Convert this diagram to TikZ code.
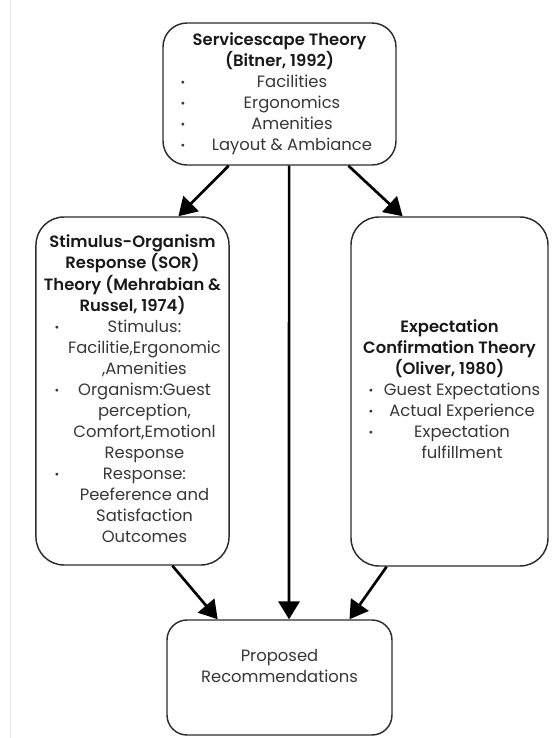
\documentclass[tikz,border=0pt]{standalone}
\usepackage{fontspec}
\setmainfont{Poppins}[BoldFont={Poppins SemiBold}]
\usepackage{array}
\usetikzlibrary{arrows.meta}
\usetikzlibrary{calc}
\definecolor{boxline}{RGB}{45,45,45}
\definecolor{itemtext}{RGB}{55,55,55}
\definecolor{pageedge}{RGB}{232,232,232}
\newcolumntype{C}[1]{>{\centering\arraybackslash}p{#1}}
\newcommand{\widthbullet}{7.5pt}
\newcommand{\hd}[1]{\multicolumn{2}{c}{\textbf{\color{black!90}#1}}}
\newcommand{\itm}[1]{\raisebox{0.1em}{\scalebox{0.7}{\textbullet}} & #1}
\tikzset{
    theory/.style={draw=boxline, line width=1.1pt, rounded corners=18pt, inner sep=0pt,
        font=\fontsize{12.3}{15.75}\selectfont, text=itemtext},
    link/.style={-{Triangle[length=13.5pt, width=16pt]}, line width=2pt},
}

\begin{document}
\begin{tikzpicture}[x=0.75pt, y=-0.75pt]
                \useasboundingbox (0,0) rectangle (556,738);
                \draw[pageedge, line width=0.75pt] (10,0) -- (10,738);

                \node[theory, minimum width=174.75pt, minimum height=106.5pt] (ServTh) at (279.5,94)
                    {\begin{tabular}{@{\hspace{11.25pt}}C{\widthbullet}@{}C{156pt}@{}}
                        \hd{Servicescape Theory}\\
                        \hd{(Bitner, 1992)}\\
                        \itm{Facilities}\\
                        \itm{Ergonomics}\\
                        \itm{Amenities}\\
                        \itm{Layout \& Ambiance}
                    \end{tabular}};

                \node[theory, rounded corners=21pt, minimum width=144.75pt, minimum height=261pt] (SORTh) at (132.5,391)
                    {\begin{tabular}{@{\hspace{12pt}}C{\widthbullet}@{}C{123.75pt}@{}}
                        \hd{Stimulus-Organism}\\
                        \hd{Response (SOR)}\\
                        \hd{Theory (Mehrabian \&}\\
                        \hd{Russel, 1974)}\\
                        \itm{Stimulus:\par Facilitie,Ergonomic\par ,Amenities}\\
                        \itm{Organism:Guest\par perception,\par Comfort,Emotionl\par Response}\\
                        \itm{Response:\par Peeference and\par Satisfaction\par Outcomes}
                    \end{tabular}};

                \node[theory, rounded corners=21pt, minimum width=147.75pt, minimum height=261.75pt] (ExpTh) at (449.5,391.5)
                    {\begin{tabular}{@{\hspace{11.25pt}}C{\widthbullet}@{}C{129pt}@{}}
                        \hd{Expectation}\\
                        \hd{Confirmation Theory}\\
                        \hd{(Oliver, 1980)}\\
                        \itm{Guest Expectations}\\
                        \itm{Actual Experience}\\
                        \itm{Expectation\par fulfillment}
                    \end{tabular}};

                \node[theory, rounded corners=15pt, minimum width=168.75pt, minimum height=86.25pt] (PropRec) at (279.5,677.5)
                    {\begin{tabular}{c}
                        Proposed\\
                        Recommendations\\[15pt]
                    \end{tabular}};

                % from the servicescape theory down
                \draw[link] ($(ServTh.south west)!0.283!(ServTh.south east)$) -- ($(SORTh.north west)!0.736!(SORTh.north east)$);
                \draw[link] ($(ServTh.south west)!0.541!(ServTh.south east)$) -- ($(PropRec.north west)!0.542!(PropRec.north east)$);
                \draw[link] ($(ServTh.south west)!0.794!(ServTh.south east)$) -- ($(ExpTh.north west)!0.264!(ExpTh.north east)$);

                % into the recommendations
                \draw[link] ($(SORTh.south west)!0.705!(SORTh.south east)$) -- ($(PropRec.north west)!0.227!(PropRec.north east)$);
                \draw[link] ($(ExpTh.south west)!0.183!(ExpTh.south east)$) -- ($(PropRec.north west)!0.809!(PropRec.north east)$);
\end{tikzpicture}
\end{document}
